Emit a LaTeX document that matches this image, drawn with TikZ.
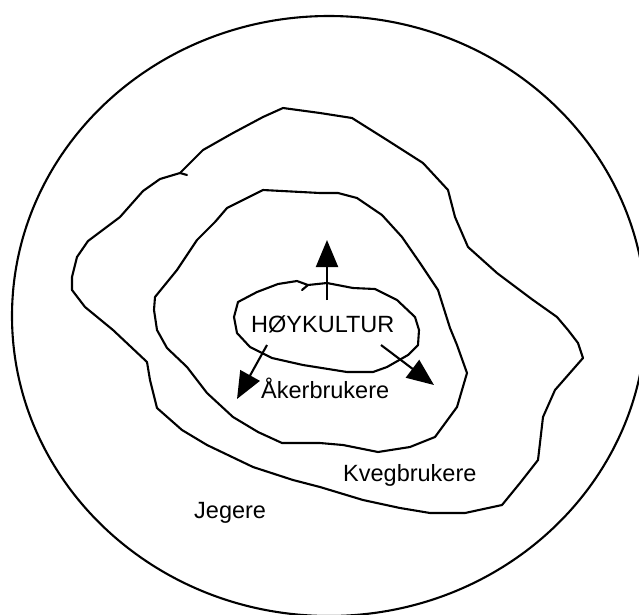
\documentclass[tikz,border=0pt]{standalone}
\usepackage{fontspec}
\setmainfont{Liberation Sans}
\usetikzlibrary{arrows.meta}
\tikzset{
  contour/.style={line width=2.1pt, line join=round, line cap=round},
  arr/.style={line width=2.1pt, -{Triangle[length=27pt,width=22pt]}},
  lbl/.style={anchor=base west, inner sep=0pt, font=\fontsize{23.5}{28}\selectfont}
}
\begin{document}
\begin{tikzpicture}[x=1pt,y=-1pt]
\useasboundingbox (0,0) rectangle (639,614);
\clip (0,0) rectangle (639,614);
\fill[white] (0,0) rectangle (639,614);
% outer circle (Jegere)
\draw[line width=2.1pt] (329,316) ellipse [x radius=317pt, y radius=300pt];
% Kvegbrukere boundary
\draw[contour] (283,108) -- (320,113) -- (352,118) -- (387,140) -- (423,163) -- (448,190)
  -- (455,217) -- (468,247) -- (497,273) -- (533,300) -- (557,317) -- (568,330)
  -- (578,343) -- (583,358) -- (555,390) -- (543,417) -- (538,460) -- (520,483)
  -- (502,505) -- (465,513) -- (430,513) -- (400,508) -- (363,500) -- (320,487)
  -- (293,480) -- (253,467) -- (207,445) -- (182,430) -- (157,408) -- (150,380)
  -- (147,362) -- (113,330) -- (85,307) -- (72,290) -- (72,277) -- (77,257)
  -- (88,241) -- (120,217) -- (143,191) -- (160,179) -- (180,173) -- (203,150)
  -- (233,133) -- (263,117) -- cycle;
\draw[contour] (180,173) -- (187,175);
% Akerbrukere boundary
\draw[contour] (263,190) -- (320,193) -- (338,193) -- (357,198) -- (382,215) -- (402,237)
  -- (420,263) -- (438,290) -- (450,328) -- (457,345) -- (467,373) -- (457,407)
  -- (435,437) -- (410,447) -- (378,452) -- (343,445) -- (320,443) -- (282,443)
  -- (258,432) -- (233,417) -- (207,393) -- (187,367) -- (167,348) -- (157,330)
  -- (154,310) -- (155,297) -- (177,270) -- (197,240) -- (215,222) -- (227,208) -- cycle;
% Hoykultur boundary
\draw[contour] (302,290) -- (308,285) -- (327,283) -- (353,288) -- (375,289) -- (397,300)
  -- (415,317) -- (419,330) -- (418,345) -- (408,355) -- (387,367) -- (373,372)
  -- (347,372) -- (303,365) -- (272,358) -- (250,347) -- (237,333) -- (234,317)
  -- (238,302) -- (257,292) -- (278,284) -- (297,281) -- (308,285);
% arrows
\coordinate (upS) at (327,300);
\coordinate (upE) at (327,240);
\coordinate (dlS) at (267,345);
\coordinate (dlE) at (237,399);
\coordinate (drS) at (381,345);
\coordinate (drE) at (434,385);
\draw[arr] (upS) -- (upE);
\draw[arr] (dlS) -- (dlE);
\draw[arr] (drS) -- (drE);
% labels
\node[lbl] (hk) at (251,332) {HØYKULTUR};
\node[lbl] (ak) at (261,398) {Åkerbrukere};
\node[lbl] (kv) at (343,481) {Kvegbrukere};
\node[lbl] (je) at (194,518) {Jegere};
\end{tikzpicture}
\end{document}
